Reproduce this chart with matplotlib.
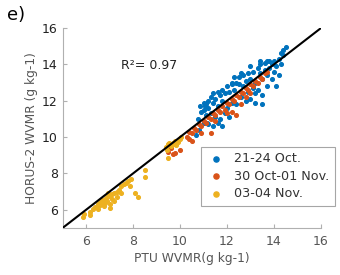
import numpy as np
import matplotlib.pyplot as plt

# 21-24 Oct.
oct_x = [10.7, 10.8, 10.75, 10.9, 10.85, 11.0, 11.0, 11.1, 11.1, 11.2, 11.2, 11.3, 11.3, 11.4, 11.4,
         11.5, 11.5, 11.6, 11.6, 11.7, 11.7, 11.8, 11.8, 11.9, 11.9, 12.0, 12.0, 12.1, 12.1, 12.2,
         12.2, 11.0, 11.2, 11.4, 11.6, 11.8, 11.06, 11.15, 12.2,
         12.3, 12.4, 12.4, 12.5, 12.5, 12.6, 12.7, 12.7, 12.8, 12.8, 12.9, 12.9, 13.0, 13.0, 13.1,
         13.1, 13.2, 13.2, 12.3, 12.6,
         13.3, 13.3, 13.4, 13.4, 13.5, 13.5, 13.6, 13.6, 13.7, 13.7, 13.8, 13.8, 13.9, 13.9, 14.0,
         14.0, 14.1, 14.1, 14.2, 14.2, 14.3, 14.3, 14.4, 14.5, 14.4, 13.5, 13.2, 13.0, 13.7, 13.4]
oct_y = [10.1, 10.4, 11.0, 11.4, 11.7, 11.9, 11.5, 11.8, 11.2, 12.0, 11.6, 12.2, 11.3, 11.9, 12.4,
         12.1, 11.1, 12.5, 11.7, 12.3, 11.0, 12.6, 12.0, 12.4, 11.3, 12.8, 11.6, 12.5, 11.1, 12.9,
         11.9, 10.8, 10.7, 10.6, 10.8, 10.6, 11.7, 10.75, 13.0,
         12.6, 13.0, 11.8, 12.9, 13.3, 12.2, 13.4, 12.8, 13.1, 12.0, 13.5, 12.5, 13.2, 12.1, 13.6,
         12.7, 13.0, 11.9, 13.3, 13.5,
         13.8, 12.6, 13.5, 14.0, 13.2, 12.3, 14.1, 13.7, 13.4, 12.8, 14.2, 13.8, 14.0, 13.2, 14.2,
         13.6, 13.9, 12.8, 14.3, 13.4, 14.6, 14.0, 14.8, 14.95, 14.5, 11.8, 12.4, 13.9, 14.2, 14.2]

# 30 Oct-01 Nov.
nov1_x = [10.3, 10.4, 10.5, 10.6, 10.7, 10.8, 10.9, 11.0, 11.1, 11.2, 11.3, 11.4, 11.5, 11.6, 11.7,
          11.8, 11.9, 12.0, 12.1, 12.2, 12.3, 12.4, 12.5, 12.6, 12.7, 12.8, 12.9, 13.0, 13.1, 13.2,
          13.3, 13.4, 13.5, 13.6, 13.7, 12.2, 12.4, 12.0, 11.3, 10.4, 10.0, 9.8, 9.7, 9.5, 9.6,
          10.5, 12.6, 12.8, 13.0, 11.5, 10.9]
nov1_y = [10.0, 10.3, 10.2, 10.5, 10.4, 10.7, 10.6, 10.9, 10.8, 11.1, 11.0, 11.3, 11.2, 11.5, 11.4,
          11.7, 11.5, 11.9, 11.8, 12.1, 12.0, 12.3, 12.2, 12.5, 12.4, 12.7, 12.6, 12.9, 12.8, 13.1,
          13.0, 13.3, 13.2, 13.5, 13.6, 11.4, 11.2, 11.3, 10.2, 9.9, 9.3, 9.1, 9.05, 9.2, 9.4,
          9.8, 11.8, 12.2, 12.4, 10.9, 10.2]

# 03-04 Nov.
nov3_x = [5.85, 5.9, 6.15, 6.15, 6.3, 6.4, 6.5, 6.6, 6.6, 6.7, 6.7, 6.8, 6.8, 6.9, 6.9,
          7.0, 7.0, 7.0, 7.1, 7.1, 7.2, 7.2, 7.3, 7.4, 7.5, 7.5, 7.6, 7.7, 7.8, 7.9,
          7.85, 8.1, 8.2, 8.5, 8.5, 6.95, 6.75, 6.5, 7.3,
          9.4, 9.5, 9.6, 9.7, 9.75, 9.8, 9.9, 10.0, 10.05, 9.45, 9.5, 9.55, 9.85]
nov3_y = [5.6, 5.75, 5.7, 5.9, 6.05, 6.15, 6.3, 6.45, 6.25, 6.55, 6.35, 6.6, 6.4, 6.7, 6.5,
          6.75, 6.3, 6.1, 6.6, 6.85, 6.5, 6.9, 6.7, 7.1, 7.3, 6.9, 7.4, 7.5, 7.6, 7.7,
          7.3, 6.95, 6.7, 7.8, 8.2, 6.9, 6.2, 6.05, 7.0,
          9.45, 9.6, 9.5, 9.7, 9.6, 9.8, 9.75, 9.9, 10.0, 9.3, 8.85, 9.7, 9.55]

fig = plt.figure(figsize=(3.4, 2.75), dpi=100)
ax = fig.add_axes([0.184, 0.171, 0.76, 0.727])

ax.scatter(oct_x, oct_y, s=7, color='#0072BD', label='21-24 Oct.', zorder=2)
ax.scatter(nov1_x, nov1_y, s=7, color='#D95319', label='30 Oct-01 Nov.', zorder=2)
ax.scatter(nov3_x, nov3_y, s=7, color='#EDB120', label='03-04 Nov.', zorder=2)
ax.plot([5, 16], [5, 16], color='black', lw=1.5, zorder=3)

ax.set_xlim(5, 16)
ax.set_ylim(5, 16)
ax.set_xticks([6, 8, 10, 12, 14, 16])
ax.set_yticks([6, 8, 10, 12, 14, 16])
for s in ['top', 'right']:
    ax.spines[s].set_visible(False)
for s in ['left', 'bottom']:
    ax.spines[s].set_color('#b0b0b0')
    ax.spines[s].set_linewidth(0.8)
ax.tick_params(direction='in', length=3, width=0.8, color='#b0b0b0', labelsize=9)
ax.tick_params(axis='x', labelcolor='#555555', pad=5)
ax.tick_params(axis='y', labelcolor='#222222')

ax.set_xlabel('PTU WVMR(g kg-1)', fontsize=8.8, color='#555555', labelpad=3)
ax.set_ylabel('HORUS-2 WVMR (g kg-1)', fontsize=8.8, color='#555555', labelpad=3)

ax.text(8.68, 13.93, 'R²= 0.97', fontsize=9, ha='center', va='center', color='#222222')
fig.text(0.02, 0.945, 'e)', fontsize=13, ha='left', va='center')

leg = ax.legend(loc='lower left', bbox_to_anchor=(0.591, 0.251), bbox_transform=fig.transFigure,
                fontsize=9.2, frameon=True, fancybox=False, handletextpad=0.6, borderpad=0.45,
                labelspacing=0.35, handlelength=1.5, markerscale=1.4, borderaxespad=0)
leg.get_frame().set_edgecolor('#909090')
leg.get_frame().set_linewidth(0.8)
for t in leg.get_texts():
    t.set_color('#333333')

fig.savefig('out.png', dpi=100)
